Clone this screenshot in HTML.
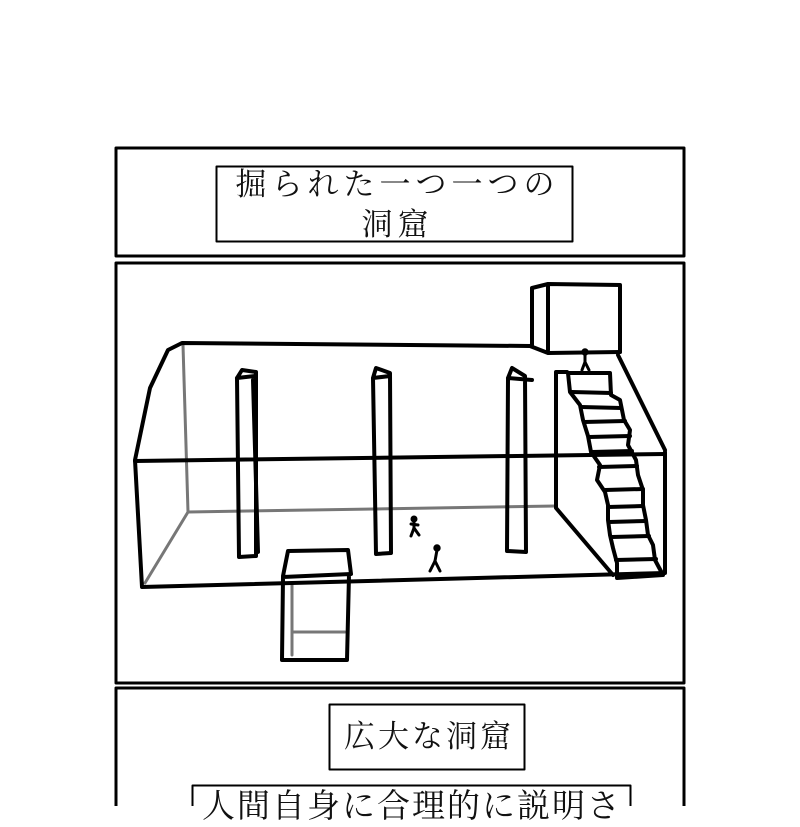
<!DOCTYPE html>
<html><head><meta charset="utf-8"><style>
html,body{margin:0;padding:0;background:#fff;}
body{width:800px;height:806px;position:relative;overflow:hidden;font-family:"Liberation Serif","Noto Serif CJK SC","Noto Sans CJK JP",serif;}
.t{position:absolute;left:0;width:800px;text-align:center;color:#111;white-space:nowrap;}
</style></head><body>
<svg width="800" height="806" style="position:absolute;left:0;top:0" fill="none" stroke="#000" stroke-linejoin="round" stroke-linecap="round">
<rect x="116" y="148" width="568" height="108" stroke-width="3"/>
<rect x="216.5" y="166.5" width="356" height="75" stroke-width="2"/>
<rect x="116" y="263" width="568" height="420" stroke-width="3"/>
<rect x="116" y="688" width="568" height="130" stroke-width="3"/>
<rect x="329.5" y="704.5" width="195" height="65" stroke-width="2"/>
<rect x="192.5" y="785.5" width="438" height="40" stroke-width="2"/>
<g stroke="#777" stroke-width="3">
<polyline points="183,345 188,512 556,506"/>
<line x1="188" y1="512" x2="145" y2="583"/>
<line x1="292" y1="584" x2="292" y2="655"/>
<line x1="292" y1="632" x2="345" y2="632"/>
</g>
<g stroke-width="4">
<polyline points="530,346 182,343 168,350 150,388 135,460 142,587 665,573 665,452"/>
<line x1="135" y1="461" x2="665" y2="454"/>
<polyline points="530,346 548,353 620,352"/>
<line x1="618" y1="355" x2="665" y2="450"/>
<polyline points="567,372 556,372 556,508 613,575"/>
<polyline points="532,345 532,288 548,284 620,285 620,352"/>
<line x1="548" y1="286" x2="548" y2="350"/>
<polyline points="237,378 239,557 256,556 256,372 242,370 237,378 255,376"/>
<line x1="253" y1="380" x2="258" y2="552"/>
<polyline points="373,378 376,554 391,553 390,373 376,368 373,378 390,376"/>
<polyline points="508,378 507,551 526,552 525,376 512,368 508,378 532,380"/>
<polyline points="283,576 288,551 348,550 351,574 283,577 282,660 347,660 349,575"/>
<!-- stairs -->
<polyline points="568,373 570,392 580,405 583,420 588,436 591,452 600,465 597,480 605,492 608,505 608,520 610,535 613,548 617,563 617,578 663,575 655,560 653,545 648,535 646,520 643,505 643,490 638,475 636,460 628,445 630,430 624,420 620,400 611,395 610,373 568,373"/>
<line x1="572" y1="392" x2="611" y2="393"/>
<line x1="581" y1="407" x2="621" y2="408"/>
<line x1="584" y1="422" x2="625" y2="421"/>
<line x1="589" y1="437" x2="630" y2="436"/>
<line x1="592" y1="452" x2="632" y2="451"/>
<line x1="599" y1="467" x2="637" y2="466"/>
<line x1="605" y1="490" x2="643" y2="489"/>
<line x1="608" y1="507" x2="643" y2="506"/>
<line x1="609" y1="522" x2="646" y2="521"/>
<line x1="612" y1="537" x2="649" y2="536"/>
<line x1="616" y1="560" x2="656" y2="559"/>
</g>
<g stroke-width="3">
<circle cx="414" cy="519" r="2" fill="#000"/><polyline points="414,521 414,528 411,536"/><line x1="414" y1="528" x2="419" y2="535"/><line x1="411" y1="524" x2="418" y2="525"/>
<circle cx="437" cy="548" r="2.2" fill="#000"/><polyline points="437,550 435,561 430,571"/><line x1="435" y1="561" x2="440" y2="571"/>
<circle cx="585" cy="352" r="2.2" fill="#000"/><polyline points="585,354 585,362 582,370"/><line x1="585" y1="362" x2="589" y2="370"/>
</g>
</svg>
<div class="t" style="top:166px;font-size:31px;line-height:38px;letter-spacing:5px;width:795px;">掘られた一つ一つの</div>
<div class="t" style="top:206px;font-size:31px;line-height:38px;letter-spacing:5px;width:795px;">洞窟</div>
<div class="t" style="top:717px;left:330px;width:198px;font-size:31px;line-height:40px;letter-spacing:3px;">広大な洞窟</div>
<div class="t" style="top:787px;left:192px;width:440px;font-size:33px;line-height:40px;letter-spacing:2px;">人間自身に合理的に説明さ</div>
</body></html>
